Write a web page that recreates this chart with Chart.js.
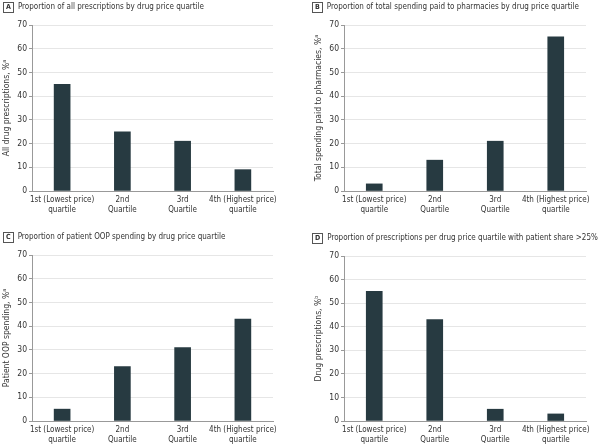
<!DOCTYPE html>
<html>
<head>
<meta charset="utf-8">
<script src="https://cdn.jsdelivr.net/npm/chart.js@4/dist/chart.umd.min.js"></script>
<style>
  body { margin: 0; background: #fff; width: 600px; height: 445px; position: relative; overflow: hidden; font-family: "DejaVu Sans Condensed", "DejaVu Sans", sans-serif; color: #333; }
  .panel { position: absolute; width: 300px; }
  .panel canvas { position: absolute; left: 0; top: 0; }
  .title { position: absolute; left: 3px; top: 2px; font-size: 8px; white-space: nowrap; z-index: 2; }
  .title b { display: inline-block; border: 1px solid #555; font-size: 7px; line-height: 9px; padding: 0 2px; margin-right: 4px; vertical-align: 0px; }
</style>
</head>
<body>
<div class="panel" style="left:0;top:0;height:222px"><div class="title"><b>A</b>Proportion of all prescriptions by drug price quartile</div><canvas id="chartA" width="300" height="222"></canvas></div>
<div class="panel" style="left:300px;top:0;height:222px"><div class="title" style="left:12px"><b>B</b>Proportion of total spending paid to pharmacies by drug price quartile</div><canvas id="chartB" width="300" height="222"></canvas></div>
<div class="panel" style="left:0;top:222px;height:223px"><div class="title" style="top:10px"><b>C</b>Proportion of patient OOP spending by drug price quartile</div><canvas id="chartC" width="300" height="223"></canvas></div>
<div class="panel" style="left:300px;top:222px;height:223px"><div class="title" style="top:11px;left:12px"><b>D</b>Proportion of prescriptions per drug price quartile with patient share &gt;25%</div><canvas id="chartD" width="300" height="223"></canvas></div>
<script>
const quartiles = [
  ['1st (Lowest price)', 'quartile'],
  ['2nd', 'Quartile'],
  ['3rd', 'Quartile'],
  ['4th (Highest price)', 'quartile'],
];
const allPrescriptions = [45, 25, 21, 9];
const pharmacySpending = [3, 13, 21, 65];
const patientOop = [5, 23, 31, 43];
const highSharePrescriptions = [55, 43, 5, 3];
const yTicks = [0, 10, 20, 30, 40, 50, 60, 70];

const barColor = '#273a41';
const fontFamily = '"DejaVu Sans Condensed", "DejaVu Sans", sans-serif';

function makeChart(id, values, yTitle, left, right, top, bottom, canvasH) {
  new Chart(document.getElementById(id), {
    type: 'bar',
    data: {
      labels: quartiles,
      datasets: [{ data: values, backgroundColor: barColor, barThickness: 16 }],
    },
    options: {
      responsive: false,
      animation: false,
      layout: { padding: { left: left - 30, top, right: 300 - right, bottom: canvasH - bottom - 23 } },
      plugins: { legend: { display: false }, tooltip: { enabled: false } },
      scales: {
        x: {
          grid: { display: false, drawTicks: false },
          border: { color: '#999', width: 1 },
          ticks: { color: '#333', font: { family: fontFamily, size: 8, lineHeight: 1.25 }, padding: 4, maxRotation: 0, autoSkip: false },
          afterFit: scale => { scale.height = 23; },
        },
        y: {
          min: 0,
          max: 70,
          afterBuildTicks: scale => { scale.ticks = yTicks.map(value => ({ value })); },
          grid: { color: '#e6e6e6', tickLength: 3, tickColor: '#999' },
          border: { color: '#999', width: 1 },
          ticks: { color: '#333', font: { family: fontFamily, size: 8.5 }, padding: 2 },
          title: { display: true, text: yTitle, color: '#333', font: { family: fontFamily, size: 8.5 }, padding: { top: 0, bottom: 2 } },
          afterFit: scale => { scale.width = 30; },
        },
      },
    },
  });
}

makeChart('chartA', allPrescriptions, 'All drug prescriptions, %\u1d43', 32, 273, 25, 191, 222);
makeChart('chartB', pharmacySpending, 'Total spending paid to pharmacies, %\u1d43', 44, 286, 25, 191, 222);
makeChart('chartC', patientOop, 'Patient OOP spending, %\u1d43', 32, 273, 33, 199, 223);
makeChart('chartD', highSharePrescriptions, 'Drug prescriptions, %\u1d47', 44, 286, 34, 199, 223);
</script>
</body>
</html>
